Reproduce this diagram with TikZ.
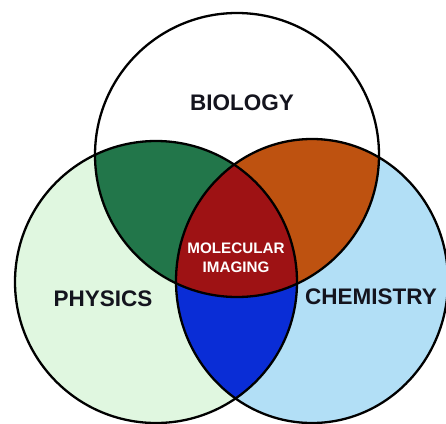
\documentclass[tikz,border=0pt]{standalone}
\usepackage{fontspec}
\setmainfont{Liberation Sans}
\definecolor{physcol}{RGB}{224,247,224}
\definecolor{chemcol}{RGB}{178,223,246}
\definecolor{pbcol}{RGB}{34,118,74}
\definecolor{bccol}{RGB}{190,82,16}
\definecolor{pccol}{RGB}{10,45,214}
\definecolor{allcol}{RGB}{158,18,20}
\definecolor{labcol}{RGB}{20,20,30}
\begin{document}
\begin{tikzpicture}[x=1pt,y=-1pt,
  ring/.style={draw=black, line width=2.3pt},
  biglabel/.style={font=\fontsize{22.5}{24}\selectfont\bfseries, text=labcol, inner sep=0pt},
  smalllabel/.style={font=\fontsize{15.2}{19}\selectfont\bfseries, text=white, align=center, inner sep=0pt}]
\useasboundingbox (0,0) rectangle (446,423);
\fill[white] (0,0) rectangle (446,423);
\coordinate (B) at (237,155);
\coordinate (P) at (156,282);
\coordinate (C) at (312,281);
\def\biopath{(B) circle[radius=142pt]}
\def\phypath{(P) circle[radius=141pt]}
\def\chempath{(C) ellipse[x radius=136pt, y radius=142pt]}
% base fills
\fill[physcol] \phypath;
\fill[chemcol] \chempath;
\fill[white] \biopath;
% pairwise intersections
\begin{scope}
  \clip \phypath;
  \fill[pbcol] \biopath;
\end{scope}
\begin{scope}
  \clip \chempath;
  \fill[bccol] \biopath;
\end{scope}
\begin{scope}
  \clip \phypath;
  \fill[pccol] \chempath;
\end{scope}
% triple intersection
\begin{scope}
  \clip \phypath;
  \clip \chempath;
  \fill[allcol] \biopath;
\end{scope}
% outlines
\draw[ring] \phypath;
\draw[ring] \chempath;
\draw[ring] \biopath;
% labels
\node[biglabel] (bio) at (242,103) {BIOLOGY};
\node[biglabel] (phy) at (103,299) {PHYSICS};
\node[biglabel] (chem) at (371,297) {CHEMISTRY};
\node[smalllabel] (mi) at (236,258) {MOLECULAR\\IMAGING};
\end{tikzpicture}
\end{document}
